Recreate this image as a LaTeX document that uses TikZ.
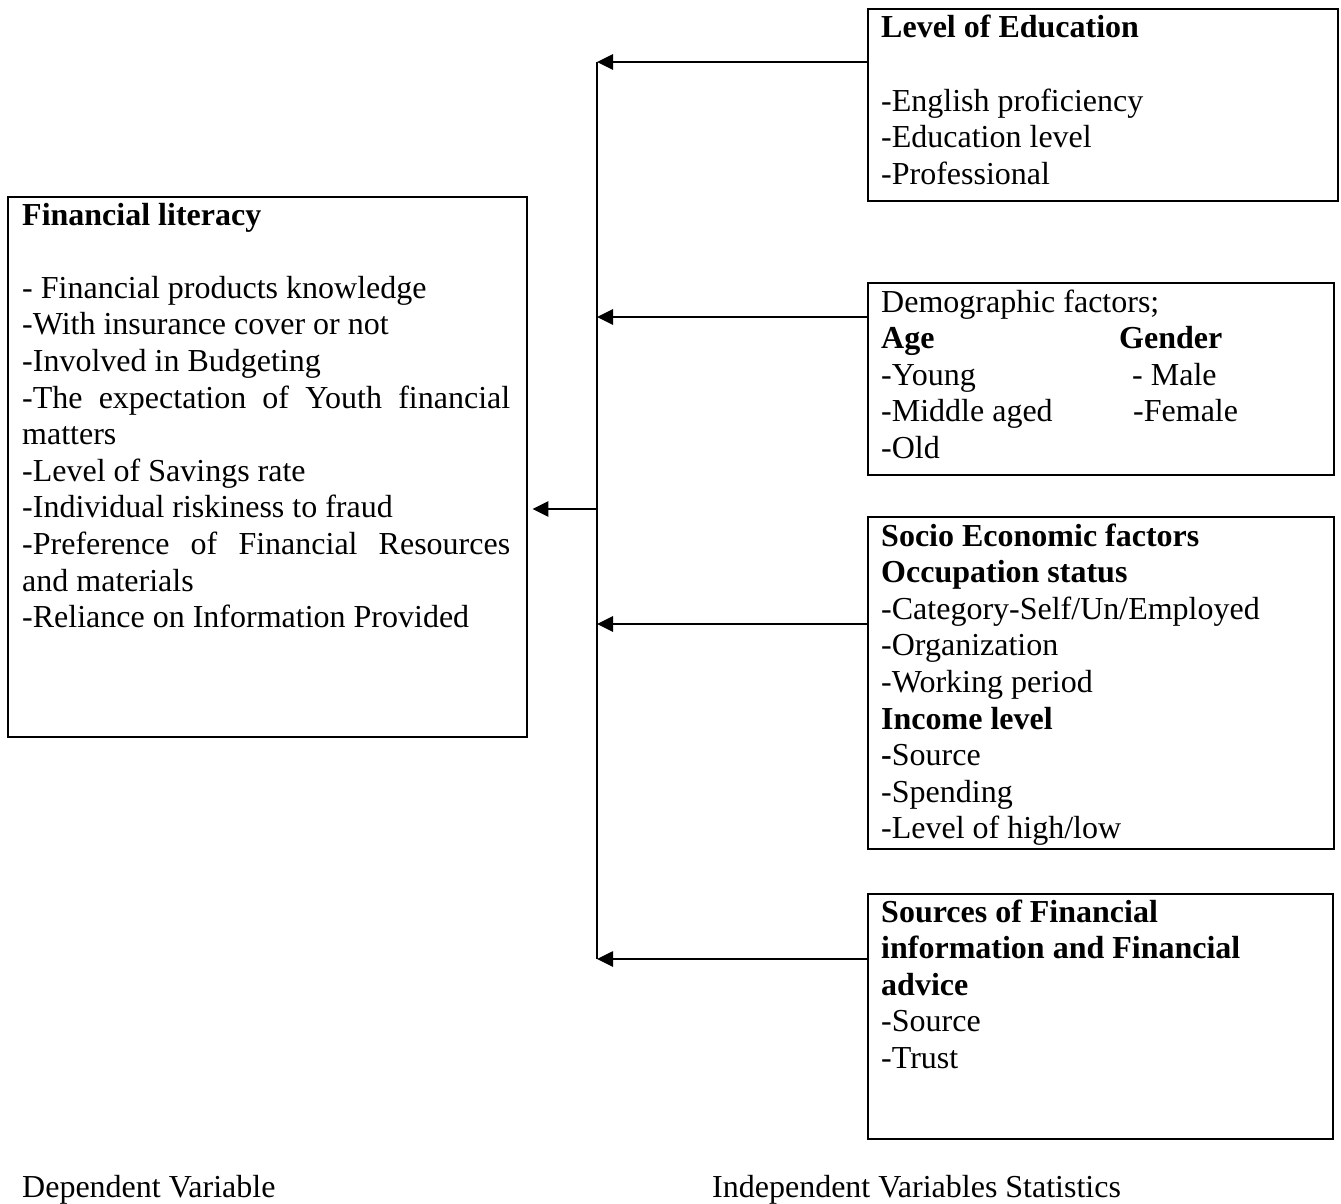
\documentclass[tikz,border=0pt]{standalone}
\usepackage{fontspec}
\setmainfont{Liberation Serif}
\usetikzlibrary{arrows.meta,calc}
\newcommand{\boxlines}[1]{\vtop{\hsize=480pt\parindent=0pt\raggedright\baselineskip=36.6pt #1\par}}
\tikzset{
  boxnode/.style={draw=black, line width=2.4pt, rectangle, inner sep=0pt, anchor=north west},
  txt/.style={inner sep=0pt, anchor=base west, font=\fontsize{32}{36.6}\selectfont},
  arr/.style={line width=2.7pt, -{Triangle[length=16pt,width=15pt]}},
  busline/.style={line width=2pt}
}
\begin{document}
\begin{tikzpicture}[x=1pt,y=-1pt]
\useasboundingbox (0,0) rectangle (1341,1204);
% boxes
\node[boxnode, minimum width=519pt, minimum height=540pt] (fin) at (7,196) {};
\node[boxnode, minimum width=470pt, minimum height=192pt] (edu) at (867,8) {};
\node[boxnode, minimum width=466pt, minimum height=192pt] (demo) at (867,282) {};
\node[boxnode, minimum width=466pt, minimum height=332pt] (socio) at (867,516) {};
\node[boxnode, minimum width=465pt, minimum height=245pt] (src) at (867,893) {};
% texts
\node[txt] (fintxt) at (22,225) {\boxlines{\textbf{Financial literacy}\\
\mbox{}\\
- Financial products knowledge\\
-With insurance cover or not\\
-Involved in Budgeting\\
\makebox[488pt][s]{-The expectation of Youth financial}\\
matters\\
-Level of Savings rate\\
-Individual riskiness to fraud\\
\makebox[488pt][s]{-Preference of Financial Resources}\\
and materials\\
-Reliance on Information Provided}};
\node[txt] (edutxt) at (881,38) {\boxlines{\textbf{Level of Education}\\
\mbox{}\\
-English proficiency\\
-Education level\\
-Professional}};
\node[txt] (demotxt) at (881,312) {\boxlines{Demographic factors;\\
\makebox[238pt][l]{\textbf{Age}}\textbf{Gender}\\
\makebox[251pt][l]{-Young}- Male\\
\makebox[252pt][l]{-Middle aged}-Female\\
-Old}};
\node[txt] (sociotxt) at (881,546) {\boxlines{\textbf{Socio Economic factors}\\
\textbf{Occupation status}\\
-Category-Self/Un/Employed\\
-Organization\\
-Working period\\
\textbf{Income level}\\
{\bfseries -}Source\\
-Spending\\
-Level of high/low}};
\node[txt] (srctxt) at (881,922) {\boxlines{\textbf{Sources of Financial}\\
\textbf{information and Financial}\\
\textbf{advice}\\
-Source\\
-Trust}};
\node[txt] (dep) at (22,1197) {Dependent Variable};
\node[txt] (indep) at (712,1197) {Independent Variables Statistics};
% bus line
\coordinate (b1) at (597,62);
\coordinate (b2) at (597,317);
\coordinate (bm) at (597,509);
\coordinate (b3) at (597,624);
\coordinate (b4) at (597,959);
\draw[busline] (b1) -- (b4);
% arrows
\draw[arr] (edu.west |- b1) -- (b1);
\draw[arr] (demo.west |- b2) -- (b2);
\draw[arr] (socio.west |- b3) -- (b3);
\draw[arr] (src.west |- b4) -- (b4);
\draw[arr, shorten >=4pt] (bm) -- (fin.east |- bm);
\end{tikzpicture}
\end{document}
